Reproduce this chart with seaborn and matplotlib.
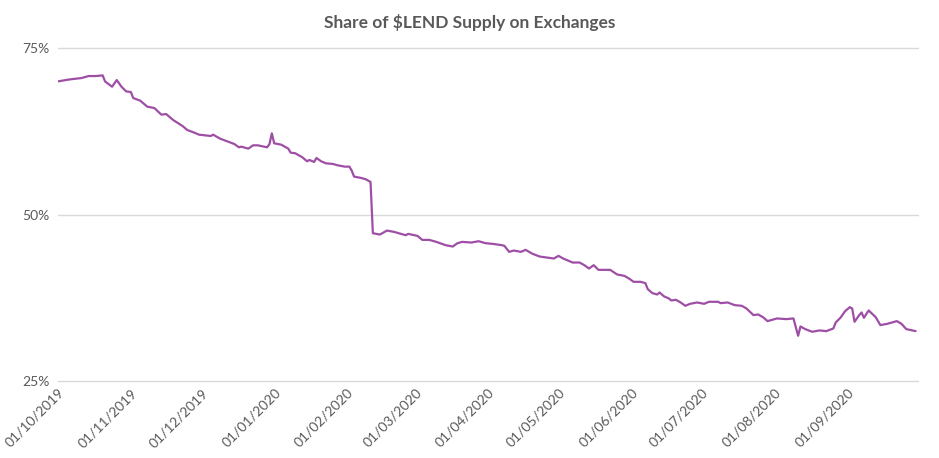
import pandas as pd
import numpy as np
import matplotlib
matplotlib.use('Agg')
import matplotlib.pyplot as plt
import matplotlib.dates as mdates
from matplotlib.ticker import FuncFormatter
import seaborn as sns

# values: days since 01/10/2019 and share of supply (%)
days = [0, 5, 10, 13, 16, 19, 20, 23, 25, 27, 29, 31, 32, 35, 38, 41, 44, 46, 49,
        53, 55, 58, 60, 65, 66, 69, 72, 75, 77, 78, 81, 83, 85, 89, 90, 91, 92, 95,
        98, 99, 101, 104, 106, 107, 109, 110, 112, 114, 117, 119, 122, 124, 125,
        126, 129, 131, 133, 134, 137, 140, 143, 148, 149, 153, 155, 158, 161, 165,
        168, 170, 172, 176, 179, 182, 185, 189, 190, 192, 194, 197, 199, 202, 205,
        209, 211, 213, 215, 217, 219, 222, 224, 226, 228, 230, 235, 238, 241, 243,
        245, 248, 250, 251, 253, 255, 256, 258, 260, 261, 263, 265, 267, 269, 272,
        275, 277, 281, 282, 285, 288, 291, 293, 296, 298, 300, 302, 306, 310, 313,
        315, 316, 318, 321, 324, 327, 330, 331, 333, 335, 337, 338, 339, 341, 342,
        343, 345, 348, 350, 353, 357, 359, 361, 365]
share = [70.0, 70.3, 70.5, 70.8, 70.8, 70.9, 70.0, 69.2, 70.2, 69.2, 68.5, 68.4,
         67.5, 67.1, 66.2, 66.0, 65.0, 65.1, 64.2, 63.3, 62.7, 62.3, 62.0, 61.8,
         62.0, 61.4, 61.0, 60.6, 60.1, 60.2, 59.9, 60.4, 60.4, 60.1, 60.6, 62.2,
         60.7, 60.5, 59.9, 59.3, 59.2, 58.6, 58.0, 58.2, 57.9, 58.5, 58.0, 57.7,
         57.6, 57.4, 57.2, 57.2, 56.6, 55.7, 55.5, 55.3, 54.9, 47.2, 47.0, 47.6,
         47.4, 46.9, 47.1, 46.8, 46.2, 46.2, 45.9, 45.4, 45.2, 45.7, 45.9, 45.8,
         46.0, 45.7, 45.6, 45.4, 45.3, 44.4, 44.6, 44.4, 44.7, 44.1, 43.7, 43.5,
         43.4, 43.8, 43.4, 43.1, 42.8, 42.8, 42.4, 41.9, 42.4, 41.7, 41.7, 41.0,
         40.8, 40.4, 39.9, 39.9, 39.7, 38.8, 38.2, 38.0, 38.3, 37.7, 37.4, 37.1,
         37.2, 36.8, 36.3, 36.6, 36.8, 36.6, 36.9, 36.9, 36.7, 36.8, 36.4, 36.3,
         35.9, 34.9, 35.0, 34.6, 34.0, 34.4, 34.3, 34.4, 31.8, 33.2, 32.8, 32.4,
         32.6, 32.5, 32.9, 33.8, 34.5, 35.5, 36.1, 35.9, 33.9, 34.9, 35.3, 34.5,
         35.6, 34.6, 33.4, 33.6, 34.0, 33.6, 32.8, 32.5]
y_ticks = [25, 50, 75]

start = pd.Timestamp('2019-10-01')
df = pd.DataFrame({'date': start + pd.to_timedelta(days, unit='D'), 'share': share})

sns.set_style('white')
plt.rcParams['font.family'] = ['Lato', 'DejaVu Sans']

fig = plt.figure(figsize=(9.39, 4.58), dpi=100)
ax = fig.add_axes([0.0618, 0.168, 0.9158, 0.727])

sns.lineplot(data=df, x='date', y='share', ax=ax, color='#9E4FA5', linewidth=1.6)

ax.set_ylim(25, 75)
ax.set_yticks(y_ticks)
ax.yaxis.set_major_formatter(FuncFormatter(lambda v, p: f'{v:.0f}%'))
ax.set_xlim(start, start + pd.Timedelta(days=366))
ax.xaxis.set_major_locator(mdates.MonthLocator(bymonthday=1))
ax.xaxis.set_major_formatter(mdates.DateFormatter('%d/%m/%Y'))
ax.set_xticks([t for t in ax.get_xticks() if t < mdates.date2num(pd.Timestamp('2020-09-15'))])
plt.setp(ax.get_xticklabels(), rotation=45, ha='right', rotation_mode='anchor')

ax.grid(axis='y', color='#D9D9D9', linewidth=1)
ax.grid(axis='x', visible=False)
for gl in ax.get_ygridlines():
    gl.set_clip_on(False)
ax.tick_params(axis='both', length=0, colors='#595959', labelsize=10)
ax.tick_params(axis='y', pad=6)
ax.tick_params(axis='x', pad=4)
for s in ax.spines.values():
    s.set_visible(False)
ax.set_xlabel('')
ax.set_ylabel('')

fig.suptitle('Share of \\$LEND Supply on Exchanges', x=0.5, y=0.97,
             fontsize=12.5, fontweight='bold', color='#595959')

fig.savefig('out.png', dpi=100, facecolor='white')
